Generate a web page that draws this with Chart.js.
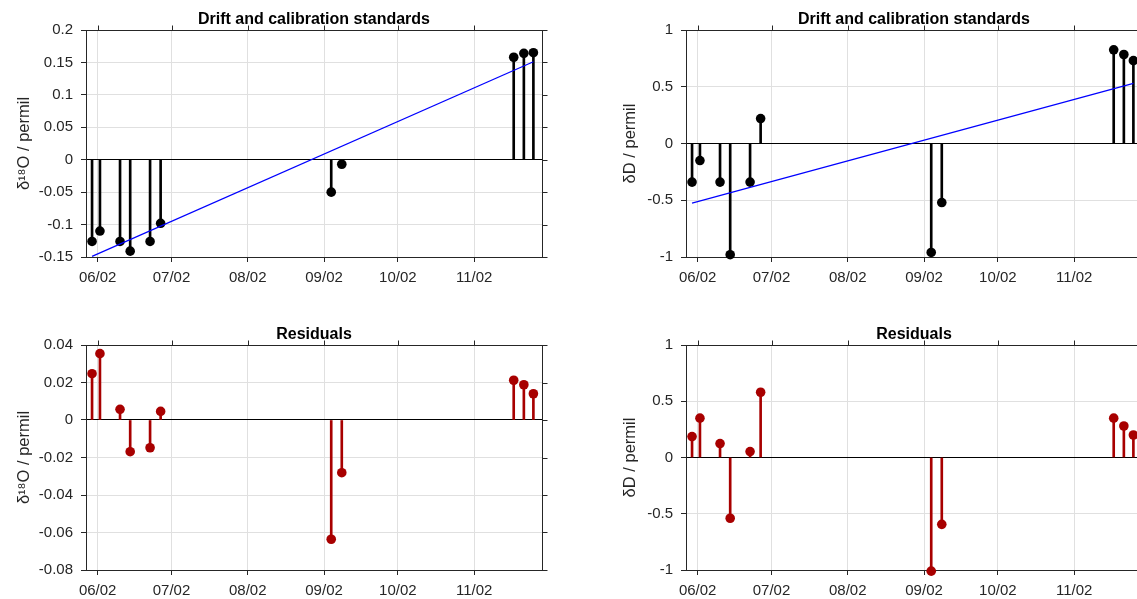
<!DOCTYPE html>
<html>
<head>
<meta charset="utf-8">
<script src="https://cdn.jsdelivr.net/npm/chart.js@4.4.1/dist/chart.umd.min.js"></script>
<style>
  html, body { margin: 0; padding: 0; background: #fff; overflow: hidden; }
  body { width: 1137px; height: 599px; position: relative; }
  .panel { position: absolute; width: 568px; height: 299px; }
</style>
</head>
<body>
<div class="panel" style="left:0;top:0"><canvas id="d18oDrift"></canvas></div>
<div class="panel" style="left:600px;top:0"><canvas id="dDDrift"></canvas></div>
<div class="panel" style="left:0;top:300px"><canvas id="d18oResid"></canvas></div>
<div class="panel" style="left:600px;top:300px"><canvas id="dDResid"></canvas></div>
<script>
/* sample times of the standards */
var sampleDates = ['2019-05-30T17:00:00Z', '2019-06-02T22:00:00Z', '2019-06-11T02:00:00Z', '2019-06-15T05:00:00Z',
                   '2019-06-23T07:00:00Z', '2019-06-27T14:00:00Z', '2019-09-04T22:00:00Z', '2019-09-09T05:00:00Z',
                   '2019-11-18T02:00:00Z', '2019-11-22T05:00:00Z', '2019-11-26T02:00:00Z'];
var xRange = ['2019-05-28T06:00:00Z', '2019-11-29T14:00:00Z'];
var tickDates = ['2019-06-02', '2019-07-02', '2019-08-02', '2019-09-02', '2019-10-02', '2019-11-02'];
var tickLabels = ['06/02', '07/02', '08/02', '09/02', '10/02', '11/02'];

/* d18O */
var d18O = [-0.126, -0.110, -0.126, -0.141, -0.126, -0.098, -0.050, -0.007, 0.158, 0.164, 0.165];
var d18OFit = [-0.149, 0.151];   // drift line at first / last sample
var d18OResid = [0.0247, 0.0354, 0.0057, -0.0169, -0.0148, 0.0046, -0.0636, -0.0281, 0.0212, 0.0188, 0.0140];
var d18OTicks = [-0.15, -0.1, -0.05, 0, 0.05, 0.1, 0.15, 0.2];
var d18OResidTicks = [-0.08, -0.06, -0.04, -0.02, 0, 0.02, 0.04];

/* dD */
var dD = [-0.34, -0.15, -0.34, -0.98, -0.34, 0.22, -0.96, -0.52, 0.825, 0.784, 0.73];
var dDFit = [-0.526, 0.53];
var dDResid = [0.186, 0.35, 0.124, -0.54, 0.053, 0.58, -1.01, -0.594, 0.35, 0.28, 0.20];
var dDTicks = [-1, -0.5, 0, 0.5, 1];

var axisColor = '#262626';
var gridColor = '#e0e0e0';

Chart.defaults.font.family = '"Liberation Sans", Arial, Helvetica, sans-serif';
Chart.defaults.color = axisColor;

function day(s) { return Date.parse(s) / 86400000; }

/* MATLAB-like box with outward ticks on top and right */
var boxPlugin = {
  id: 'box',
  beforeDatasetsDraw: function (chart) {
    var a = chart.chartArea, ctx = chart.ctx;
    var xs = chart.scales.x, ys = chart.scales.y;
    var L = Math.round(a.left) + 0.5, R = Math.round(a.right) + 0.5;
    var T = Math.round(a.top) + 0.5, B = Math.round(a.bottom) + 0.5;
    ctx.save();
    ctx.strokeStyle = axisColor;
    ctx.lineWidth = 1;
    ctx.strokeRect(L, T, R - L, B - T);
    ctx.beginPath();
    xs.ticks.forEach(function (t) {
      var px = Math.round(xs.getPixelForValue(t.value)) + 0.5;
      ctx.moveTo(px, T); ctx.lineTo(px, T - 5);
    });
    ys.ticks.forEach(function (t) {
      var py = Math.round(ys.getPixelForValue(t.value)) + 0.5;
      ctx.moveTo(R, py); ctx.lineTo(R + 5, py);
    });
    ctx.stroke();
    ctx.restore();
  }
};

function panel(id, o) {
  var n = sampleDates.length;
  var pts = sampleDates.map(function (d, i) { return { x: day(d), y: o.values[i] }; });
  var datasets = [
    { type: 'bar', data: pts, backgroundColor: o.color, barThickness: 2, order: 3 },
    { type: 'scatter', data: pts, pointRadius: 4.8, pointBackgroundColor: o.color, pointBorderWidth: 0, clip: false, order: 2 }
  ];
  if (o.fit) {
    datasets.push({
      type: 'line',
      data: [{ x: day(sampleDates[0]), y: o.fit[0] }, { x: day(sampleDates[n - 1]), y: o.fit[1] }],
      borderColor: '#0000ff', borderWidth: 1.2, pointRadius: 0, order: 1
    });
  }
  new Chart(document.getElementById(id), {
    type: 'bar',
    data: { datasets: datasets },
    options: {
      responsive: true,
      maintainAspectRatio: false,
      animation: false,
      events: [],
      layout: { padding: { left: 0, right: 26, top: 0, bottom: 0 } },
      plugins: {
        legend: { display: false },
        tooltip: { enabled: false },
        title: {
          display: true, text: o.title, fullSize: false, color: '#000',
          font: { size: 16, weight: 'bold' },
          padding: { top: o.titleTop, bottom: o.titleBottom }
        }
      },
      scales: {
        x: {
          type: 'linear', min: day(xRange[0]), max: day(xRange[1]), offset: false,
          grid: { color: gridColor, offset: false, tickLength: 5, tickColor: axisColor },
          border: { display: false },
          afterBuildTicks: function (s) { s.ticks = tickDates.map(function (d) { return { value: day(d) }; }); },
          afterFit: function (s) { s.height = o.xHeight; },
          ticks: {
            autoSkip: false, maxRotation: 0, padding: 7, color: axisColor, font: { size: 15 },
            callback: function (v, i) { return tickLabels[i]; }
          }
        },
        y: {
          type: 'linear', min: o.ticks[0], max: o.ticks[o.ticks.length - 1],
          grid: {
            color: function (c) { return c.tick && c.tick.value === 0 ? '#000' : gridColor; },
            tickLength: 5, tickColor: axisColor
          },
          border: { display: false },
          afterBuildTicks: function (s) { s.ticks = o.ticks.map(function (v) { return { value: v }; }); },
          afterFit: function (s) { s.width = 86; },
          ticks: { padding: 8, color: axisColor, font: { size: 15 }, callback: function (v) { return String(v); } },
          title: {
            display: true, text: o.yTitle, color: axisColor, font: { size: 16.5 },
            padding: { top: o.yTitlePad, bottom: 0 }
          }
        }
      }
    },
    plugins: [boxPlugin]
  });
}

panel('d18oDrift', { values: d18O, fit: d18OFit, ticks: d18OTicks, color: '#000000',
  title: 'Drift and calibration standards', yTitle: 'δ¹⁸O / permil', yTitlePad: 15, titleTop: 10, titleBottom: 0.8, xHeight: 42 });
panel('dDDrift', { values: dD, fit: dDFit, ticks: dDTicks, color: '#000000',
  title: 'Drift and calibration standards', yTitle: 'δD / permil', yTitlePad: 21, titleTop: 10, titleBottom: 0.8, xHeight: 42 });
panel('d18oResid', { values: d18OResid, ticks: d18OResidTicks, color: '#a80000',
  title: 'Residuals', yTitle: 'δ¹⁸O / permil', yTitlePad: 15, titleTop: 25.4, titleBottom: 0.4, xHeight: 29 });
panel('dDResid', { values: dDResid, ticks: dDTicks, color: '#a80000',
  title: 'Residuals', yTitle: 'δD / permil', yTitlePad: 21, titleTop: 25.4, titleBottom: 0.4, xHeight: 29 });
</script>
</body>
</html>
